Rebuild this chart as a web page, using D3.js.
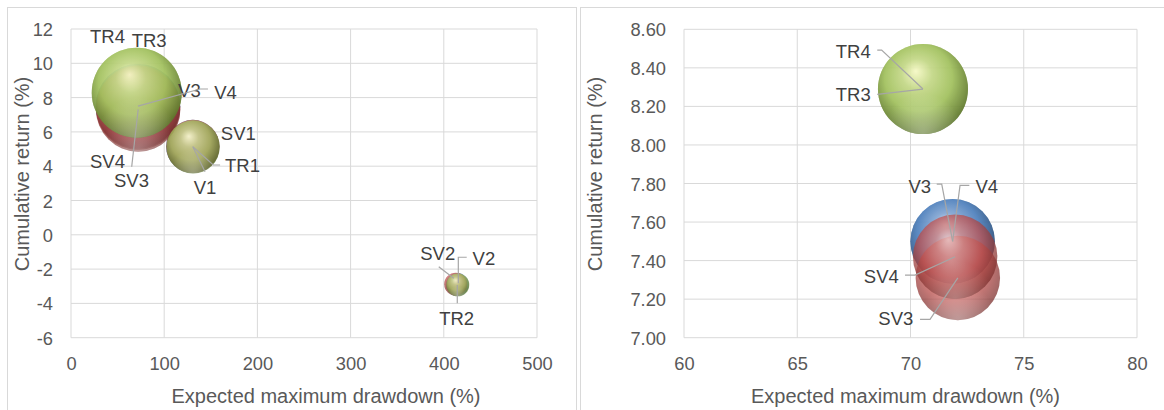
<!DOCTYPE html>
<html><head><meta charset="utf-8">
<script src="https://cdn.jsdelivr.net/npm/d3@7"></script>
<style>
body{margin:0;background:#fff}
svg{display:block}
text{font-family:"Liberation Sans",Arial,sans-serif}
</style>
</head><body><svg id="c" width="1164" height="410"></svg>
<script>
// ---------------- data ----------------
const seriesNames = ["V", "SV", "TR"];
const pointIds = ["1", "2", "3", "4"];
const drawdownV  = [130.6, 414.5, 71.86, 71.86];
const returnV    = [5.15, -2.90, 7.50, 7.50];
const sizeV      = [35, 6.5, 88, 88];
const drawdownSV = [130.8, 412.8, 72.09, 71.97];
const returnSV   = [5.15, -2.88, 7.31, 7.42];
const sizeSV     = [35, 6.5, 88, 88];
const drawdownTR = [131.0, 415.0, 70.55, 70.55];
const returnTR   = [5.12, -2.92, 8.29, 8.29];
const sizeTR     = [35, 6.5, 100, 100];
const xTicksLeft  = [0, 100, 200, 300, 400, 500];
const yTicksLeft  = [-6, -4, -2, 0, 2, 4, 6, 8, 10, 12];
const xTicksRight = [60, 65, 70, 75, 80];
const yTicksRight = [7.00, 7.20, 7.40, 7.60, 7.80, 8.00, 8.20, 8.40, 8.60];
const xTitle = "Expected maximum drawdown (%)";
const yTitle = "Cumulative return (%)";

// ---------------- styles / layout ----------------
const seriesStyle = {
  V:  {hi: "#d3e1f3", base: "#4f81bd", dark: "#27466d"},
  SV: {hi: "#f5d2d0", base: "#c0504d", dark: "#722a28"},
  TR: {hi: "#f6f9c6", base: "#a3c25f", dark: "#566f26"}
};
const seriesData = {
  V:  [drawdownV, returnV, sizeV],
  SV: [drawdownSV, returnSV, sizeSV],
  TR: [drawdownTR, returnTR, sizeTR]
};

// label offsets (text centre relative to bubble centre) and leader polylines (relative)
const leftLabels = {
  TR4: {dx: -29.3, dy: -56},
  TR3: {dx: 12.4, dy: -52.6},
  V3:  {dx: 51.4, dy: -15.9},
  V4:  {dx: 87.5, dy: -13.7, lead: [[70, -17.2], [62, -17.2], [0, 0]]},
  SV4: {dx: -30.6, dy: 54},
  SV3: {dx: -6.7, dy: 71.1, lead: [[-6.5, 57.3], [0, 0]]},
  SV1: {dx: 45.4, dy: -13},
  TR1: {dx: 49.4, dy: 18, lead: [[27, 18], [20.2, 18], [0, 0]]},
  V1:  {dx: 12.3, dy: 41, lead: [[12.3, 25.2], [0, 0]]},
  SV2: {dx: -18, dy: -30.9, lead: [[-17, -17.5], [-2, -5.9]]},
  V2:  {dx: 26.6, dy: -26.3, lead: [[9.4, -27.3], [1, -27.3], [1, -1.3]]},
  TR2: {dx: -1.1, dy: 33.1, lead: [[-0.5, 18.4], [-0.5, 0]]}
};
const rightLabels = {
  TR4: {dx: -69.7, dy: -37.3, lead: [[-45.7, -39], [-41.3, -39], [0, 0]]},
  TR3: {dx: -69.7, dy: 5.5, lead: [[-45.7, 5.3], [0, 0]]},
  V3:  {dx: -32.9, dy: -54.9, lead: [[-15.9, -57.3], [-10.9, -57.3], [0, 0]]},
  V4:  {dx: 34.1, dy: -54.9, lead: [[16.7, -56], [7.4, -56], [0, 0]]},
  SV4: {dx: -73.8, dy: 19.1, lead: [[-50.1, 18.3], [-40.1, 18.3], [0, 0]]},
  SV3: {dx: -62, dy: 40.4, lead: [[-37.8, 41.4], [-27.8, 41.4], [0, 0]]}
};

const panels = [
  {frame: [7.5, 7.5, 569, 420], plot: {l: 71, r: 537, t: 29, b: 337.7},
   xDomain: [0, 500], yDomain: [-6, 12], xTicks: xTicksLeft, yTicks: yTicksLeft,
   yFmt: d => String(d), labels: leftLabels, yTitleX: 29, xTitleShift: 22},
  {frame: [580.5, 7.5, 620, 420], plot: {l: 684, r: 1137, t: 29.3, b: 337.7},
   xDomain: [60, 80], yDomain: [7, 8.6], xTicks: xTicksRight, yTicks: yTicksRight,
   yFmt: d3.format(".2f"), labels: rightLabels, yTitleX: 602, xTitleShift: -5}
];

const svg = d3.select("#c");
const defs = svg.append("defs");
Object.entries(seriesStyle).forEach(([k, s]) => {
  const g = defs.append("radialGradient").attr("id", "g" + k)
    .attr("cx", 0.47).attr("cy", 0.42).attr("r", 0.6).attr("fx", 0.42).attr("fy", 0.3);
  g.append("stop").attr("offset", 0).attr("stop-color", s.hi);
  g.append("stop").attr("offset", 0.28).attr("stop-color", d3.interpolateRgb(s.hi, s.base)(0.6));
  g.append("stop").attr("offset", 0.62).attr("stop-color", s.base);
  g.append("stop").attr("offset", 0.85).attr("stop-color", d3.interpolateRgb(s.base, s.dark)(0.6));
  g.append("stop").attr("offset", 1).attr("stop-color", s.dark);
});
const refl = defs.append("radialGradient").attr("id", "refl")
  .attr("cx", 0.5).attr("cy", 1.0).attr("r", 0.45);
refl.append("stop").attr("offset", 0).attr("stop-color", "#fff").attr("stop-opacity", 0.35);
refl.append("stop").attr("offset", 1).attr("stop-color", "#fff").attr("stop-opacity", 0);

const rScale = d3.scaleSqrt().domain([0, 100]).range([0, 45]);

panels.forEach(p => {
  const g = svg.append("g");
  g.append("rect").attr("x", p.frame[0]).attr("y", p.frame[1])
    .attr("width", p.frame[2]).attr("height", p.frame[3])
    .attr("fill", "#fff").attr("stroke", "#d9d9d9").attr("stroke-width", 1);

  const x = d3.scaleLinear().domain(p.xDomain).range([p.plot.l, p.plot.r]);
  const y = d3.scaleLinear().domain(p.yDomain).range([p.plot.b, p.plot.t]);

  // grid
  g.append("g").selectAll("line").data(p.xTicks).join("line")
    .attr("x1", d => x(d)).attr("x2", d => x(d)).attr("y1", p.plot.t).attr("y2", p.plot.b)
    .attr("stroke", "#d9d9d9").attr("stroke-width", 1);
  g.append("g").selectAll("line").data(p.yTicks).join("line")
    .attr("y1", d => y(d)).attr("y2", d => y(d)).attr("x1", p.plot.l).attr("x2", p.plot.r)
    .attr("stroke", "#d9d9d9").attr("stroke-width", 1);

  // axes (labels only)
  const xa = g.append("g").attr("transform", `translate(0,${p.plot.b})`)
    .call(d3.axisBottom(x).tickValues(p.xTicks).tickSize(0).tickPadding(14));
  const ya = g.append("g").attr("transform", `translate(${p.plot.l},0)`)
    .call(d3.axisLeft(y).tickValues(p.yTicks).tickFormat(p.yFmt).tickSize(0).tickPadding(18));
  [xa, ya].forEach(a => {
    a.select(".domain").remove();
    a.selectAll("text").attr("fill", "#595959").attr("font-size", 18.3)
      .attr("font-family", '"Liberation Sans",Arial,sans-serif');
  });
  xa.selectAll("text").attr("dy", "0.71em").attr("y", 19.5);
  ya.selectAll("text").attr("dy", "0.36em");

  // titles
  g.append("text").attr("x", (p.plot.l + p.plot.r) / 2 + p.xTitleShift).attr("y", 402.5)
    .attr("text-anchor", "middle").attr("font-size", 20).attr("fill", "#595959").text(xTitle);
  g.append("text").attr("transform", `translate(${p.yTitleX},174) rotate(-90)`)
    .attr("text-anchor", "middle").attr("font-size", 20).attr("fill", "#595959").text(yTitle);

  // bubbles
  const pts = [];
  seriesNames.forEach(s => {
    const [xs, ys, ss] = seriesData[s];
    pointIds.forEach((id, i) => {
      if (xs[i] < p.xDomain[0] || xs[i] > p.xDomain[1] || ys[i] < p.yDomain[0] || ys[i] > p.yDomain[1]) return;
      pts.push({s, name: s + id, cx: x(xs[i]), cy: y(ys[i]), r: rScale(ss[i])});
    });
  });
  const bg = g.append("g");
  const b = bg.selectAll("g").data(pts).join("g").attr("opacity", 0.74);
  b.append("circle").attr("cx", d => d.cx).attr("cy", d => d.cy).attr("r", d => d.r)
    .attr("fill", d => `url(#g${d.s})`);
  b.append("circle").attr("cx", d => d.cx).attr("cy", d => d.cy).attr("r", d => d.r)
    .attr("fill", "url(#refl)");

  // leader lines & labels
  const lg = g.append("g");
  pts.forEach(d => {
    const L = p.labels[d.name];
    if (!L) return;
    if (L.lead) {
      lg.append("path")
        .attr("d", d3.line()(L.lead.map(q => [d.cx + q[0], d.cy + q[1]])))
        .attr("fill", "none").attr("stroke", "#a6a6a6").attr("stroke-width", 1.2);
    }
    lg.append("text").attr("x", d.cx + L.dx).attr("y", d.cy + L.dy).attr("dy", "0.36em")
      .attr("text-anchor", "middle").attr("font-size", 18.5).attr("fill", "#404040").text(d.name);
  });
});
</script>
</body></html>
